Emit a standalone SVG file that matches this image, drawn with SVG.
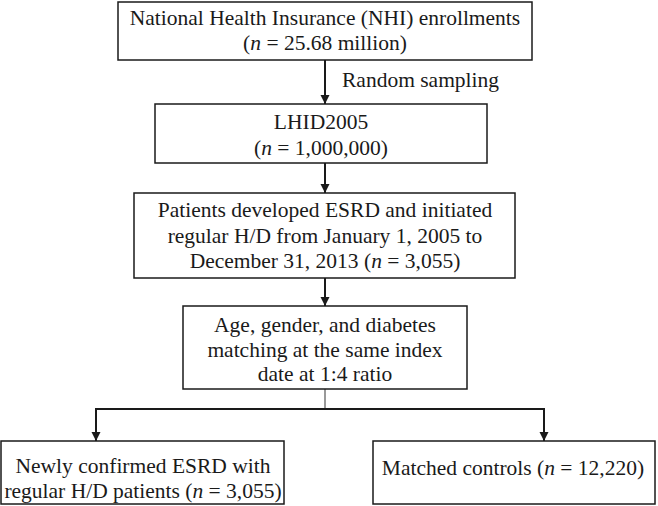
<svg xmlns="http://www.w3.org/2000/svg" width="658" height="506" viewBox="0 0 658 506">
<style>
  .box { fill: #ffffff; stroke: #1a1a1a; stroke-width: 1.5; }
  .t { font-family: "Liberation Serif", "Times New Roman", serif; font-size: 21.5px; fill: #1a1a1a; text-anchor: middle; }
  .tl { font-family: "Liberation Serif", "Times New Roman", serif; font-size: 21.5px; fill: #1a1a1a; }
  .i { font-style: italic; }
  .conn { stroke: #1a1a1a; stroke-width: 2; fill: none; }
  .thin { stroke: #777777; stroke-width: 1.5; fill: none; }
</style>
<defs>
  <marker id="arr" markerUnits="userSpaceOnUse" markerWidth="10" markerHeight="10" refX="9" refY="5" orient="auto">
    <path d="M0,0.5 L9,5 L0,9.5 z" fill="#1a1a1a"/>
  </marker>
</defs>
<rect width="658" height="506" fill="#ffffff"/>
<g id="connectors">
  <line class="conn" x1="325" y1="60" x2="325" y2="104" marker-end="url(#arr)"/>
  <line class="conn" x1="325" y1="163" x2="325" y2="193" marker-end="url(#arr)"/>
  <line class="conn" x1="325" y1="278" x2="325" y2="306" marker-end="url(#arr)"/>
  <line class="thin" x1="325" y1="389" x2="325" y2="409"/>
  <line class="conn" x1="96" y1="409" x2="544" y2="409"/>
  <line class="conn" x1="96" y1="408" x2="96" y2="441" marker-end="url(#arr)"/>
  <line class="conn" x1="544" y1="408" x2="544" y2="441" marker-end="url(#arr)"/>
  <text class="tl" x="342" y="87">Random sampling</text>
</g>
<g id="node-nhi">
  <rect class="box" x="118" y="2" width="414" height="58"/>
  <text class="t" x="325" y="25">National Health Insurance (NHI) enrollments</text>
  <text class="t" x="325" y="50">(<tspan class="i">n</tspan> = 25.68 million)</text>
</g>
<g id="node-lhid">
  <rect class="box" x="155" y="104" width="332" height="59"/>
  <text class="t" x="321" y="129">LHID2005</text>
  <text class="t" x="321" y="155">(<tspan class="i">n</tspan> = 1,000,000)</text>
</g>
<g id="node-esrd">
  <rect class="box" x="134" y="193" width="381" height="85"/>
  <text class="t" x="325" y="217">Patients developed ESRD and initiated</text>
  <text class="t" x="325" y="243">regular H/D from January 1, 2005 to</text>
  <text class="t" x="325" y="268">December 31, 2013 (<tspan class="i">n</tspan> = 3,055)</text>
</g>
<g id="node-matching">
  <rect class="box" x="183" y="306" width="284" height="83"/>
  <text class="t" x="325" y="332">Age, gender, and diabetes</text>
  <text class="t" x="325" y="357">matching at the same index</text>
  <text class="t" x="325" y="381">date at 1:4 ratio</text>
</g>
<g id="node-cases">
  <rect class="box" x="1" y="441" width="283" height="63"/>
  <text class="t" x="143" y="473">Newly confirmed ESRD with</text>
  <text class="t" x="143" y="498">regular H/D patients (<tspan class="i">n</tspan> = 3,055)</text>
</g>
<g id="node-controls">
  <rect class="box" x="373" y="441" width="282" height="63"/>
  <text class="t" x="513" y="475">Matched controls (<tspan class="i">n</tspan> = 12,220)</text>
</g>
</svg>
